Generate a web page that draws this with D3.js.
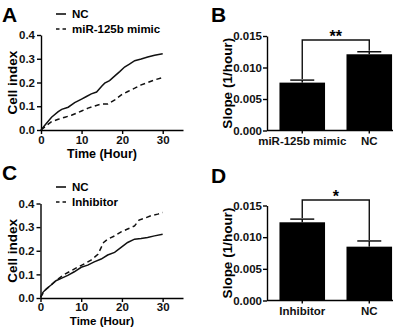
<!DOCTYPE html>
<html><head><meta charset="utf-8">
<script src="https://cdn.jsdelivr.net/npm/d3@7"></script>
<style>
html,body{margin:0;padding:0;background:#fff;}
svg{display:block;font-family:"Liberation Sans",Arial,sans-serif;font-weight:bold;}
</style></head><body>
<script>
// ---------- DATA ----------
const lineXTicks = [0, 10, 20, 30];
const lineYTicks = [0, 0.1, 0.2, 0.3, 0.4];
const barYTicks = [0, 0.005, 0.010, 0.015];

// Panel A
const timeA_NC = [0,1,2.6,4.25,5.1,6.7,8.3,10,11.2,12.4,13.7,14.9,15.7,16.9,18.2,19.4,20.6,21.8,23.1,24.7,26.3,28,30];
const valA_NC  = [0,0.021,0.054,0.077,0.087,0.096,0.115,0.13,0.141,0.152,0.16,0.183,0.197,0.208,0.228,0.246,0.265,0.277,0.292,0.299,0.307,0.315,0.321];
const timeA_Mimic = [0,1,2.6,4.25,5.9,7.5,10,11.6,13.2,14.9,16.5,18.2,19.8,21.4,23.1,24.7,26.3,28,30];
const valA_Mimic  = [0,0.014,0.035,0.045,0.054,0.062,0.08,0.092,0.101,0.11,0.11,0.127,0.148,0.162,0.176,0.19,0.2,0.211,0.221];
const legendA = ["NC", "miR-125b mimic"];

// Panel C
const timeC_NC = [0,0.6,1.4,2.6,3.8,5.1,6.7,8.3,10,11.6,13.2,14.9,16.5,18.2,19.8,21.4,23.1,24.7,26.3,28,30];
const valC_NC  = [0.003,0.024,0.038,0.055,0.073,0.083,0.096,0.111,0.13,0.139,0.153,0.165,0.182,0.193,0.214,0.235,0.249,0.252,0.256,0.263,0.27];
const timeC_Inh = [0,1,2.6,4.25,5.9,7.5,9.1,10.8,12.4,14.1,15.5,16.5,18.2,19.8,21.4,23.1,24.2,25.5,27.1,28.8,30];
const valC_Inh  = [0.003,0.031,0.055,0.08,0.1,0.115,0.13,0.145,0.16,0.185,0.235,0.249,0.263,0.28,0.292,0.305,0.33,0.337,0.348,0.355,0.362];
const legendC = ["NC", "Inhibitor"];

// Panel B
const catsB = ["miR-125b mimic", "NC"];
const meanB = [0.0076, 0.0121];
const errB  = [0.0004, 0.0004];
const sigB  = "**";

// Panel D
const catsD = ["Inhibitor", "NC"];
const meanD = [0.01235, 0.0085];
const errD  = [0.0005, 0.0009];
const sigD  = "*";

// ---------- DRAW ----------
const W = 396, H = 327;
const svg = d3.select("body").append("svg").attr("width", W).attr("height", H);

function styleAxis(g) {
  g.selectAll("path,line").attr("stroke", "#000").attr("stroke-width", 1.4);
  g.selectAll("text").attr("font-size", 11.5).attr("font-weight", "bold")
    .attr("font-family", '"Liberation Sans",Arial,sans-serif').attr("fill", "#111");
}

function letter(txt, x, y) {
  svg.append("text").attr("x", x).attr("y", y).attr("font-size", 21)
    .attr("font-weight", "bold").text(txt);
}

function linePanel(o) {
  const x = d3.scaleLinear().domain([0, 35]).range([o.x0, o.x1]);
  const y = d3.scaleLinear().domain([0, 0.4]).range([o.y0, o.y1]);
  const g = svg.append("g");
  const ax = g.append("g").attr("transform", `translate(0,${o.y0})`)
    .call(d3.axisBottom(x).tickValues(lineXTicks).tickSize(4).tickSizeOuter(0).tickPadding(o.xPad).tickFormat(d3.format("d")));
  styleAxis(ax);
  const ay = g.append("g").attr("transform", `translate(${o.x0},0)`)
    .call(d3.axisLeft(y).tickValues(lineYTicks).tickSize(4).tickSizeOuter(0).tickPadding(2).tickFormat(d3.format(".1f")));
  styleAxis(ay);
  const line = d3.line().x(d => x(d[0])).y(d => y(d[1]));
  o.series.forEach(s => {
    g.append("path").datum(d3.zip(s.t, s.v)).attr("d", line)
      .attr("fill", "none").attr("stroke", "#111").attr("stroke-width", 1.5)
      .attr("stroke-dasharray", s.dash ? "5,3.5" : null);
  });
  // legend
  o.legend.forEach((name, i) => {
    const ly = o.legY + i * 15;
    g.append("line").attr("x1", 56).attr("x2", 66).attr("y1", ly).attr("y2", ly)
      .attr("stroke", "#111").attr("stroke-width", 1.6)
      .attr("stroke-dasharray", o.series[i].dash ? "3.5,3" : null);
    g.append("text").attr("x", 72).attr("y", ly + 4).attr("font-size", 11.5).text(name);
  });
  g.append("text").attr("transform", `translate(17,${(o.y0 + o.y1) / 2}) rotate(-90)`)
    .attr("text-anchor", "middle").attr("font-size", 13.5).text("Cell index");
  g.append("text").attr("x", 102).attr("y", o.xlabY).attr("text-anchor", "middle")
    .attr("font-size", o.xlabSize).text("Time (Hour)");
}

function barPanel(o) {
  const x = d3.scaleBand().domain(o.cats).range([267, 393]).paddingInner(0.32).paddingOuter(0.1).align(0.93);
  const y = d3.scaleLinear().domain([0, 0.015]).range([o.y0, o.y1]);
  const g = svg.append("g");
  // bars
  g.selectAll("rect.bar").data(o.cats).join("rect")
    .attr("x", d => x(d)).attr("width", x.bandwidth())
    .attr("y", (d, i) => y(o.mean[i])).attr("height", (d, i) => y(0) - y(o.mean[i]))
    .attr("fill", "#000");
  // error bars
  o.cats.forEach((c, i) => {
    const cx = x(c) + x.bandwidth() / 2;
    g.append("line").attr("x1", cx).attr("x2", cx).attr("y1", y(o.mean[i])).attr("y2", y(o.mean[i] + o.err[i]))
      .attr("stroke", "#111").attr("stroke-width", 1.5);
    g.append("line").attr("x1", cx - 12).attr("x2", cx + 12).attr("y1", y(o.mean[i] + o.err[i])).attr("y2", y(o.mean[i] + o.err[i]))
      .attr("stroke", "#111").attr("stroke-width", 1.5);
  });
  const ax = g.append("g").attr("transform", `translate(0,${o.y0})`)
    .call(d3.axisBottom(x).tickSize(3).tickSizeOuter(0).tickPadding(3));
  styleAxis(ax);
  ax.select(".domain").attr("d", `M267,0H393`);
  const ay = g.append("g").attr("transform", `translate(267,0)`)
    .call(d3.axisLeft(y).tickValues(barYTicks).tickSize(4).tickSizeOuter(0).tickPadding(1).tickFormat(d3.format(".3f")));
  styleAxis(ay);
  // significance bracket
  const c1 = x(o.cats[0]) + x.bandwidth() / 2, c2 = x(o.cats[1]) + x.bandwidth() / 2;
  const t1 = y(o.mean[0] + o.err[0]) - 1, t2 = y(o.mean[1] + o.err[1]) - 1;
  g.append("path").attr("d", `M${c1},${t1}V${o.brY}H${c2}V${t2}`)
    .attr("fill", "none").attr("stroke", "#111").attr("stroke-width", 1.4);
  g.append("text").attr("x", (c1 + c2) / 2).attr("y", o.brY + 2).attr("text-anchor", "middle")
    .attr("font-size", 16).text(o.sig);
  g.append("text").attr("transform", `translate(232,${(o.y0 + o.y1) / 2}) rotate(-90)`)
    .attr("text-anchor", "middle").attr("font-size", 13.5).text("Slope (1/hour)");
}

letter("A", 2, 22);
letter("B", 211, 22);
letter("C", 2, 180);
letter("D", 211, 183);

linePanel({x0: 41, x1: 183, y0: 130, y1: 35, legY: 14, xlabY: 158, xlabSize: 12.5, xPad: 2, legend: legendA,
  series: [{t: timeA_NC, v: valA_NC, dash: false}, {t: timeA_Mimic, v: valA_Mimic, dash: true}]});
linePanel({x0: 40.5, x1: 183, y0: 298, y1: 203.5, legY: 187, xlabY: 324.5, xlabSize: 11.5, xPad: 1, legend: legendC,
  series: [{t: timeC_NC, v: valC_NC, dash: false}, {t: timeC_Inh, v: valC_Inh, dash: true}]});

barPanel({cats: catsB, mean: meanB, err: errB, sig: sigB, y0: 130.5, y1: 36, brY: 40});
barPanel({cats: catsD, mean: meanD, err: errD, sig: sigD, y0: 300.5, y1: 205.5, brY: 200});
</script>
</body></html>
